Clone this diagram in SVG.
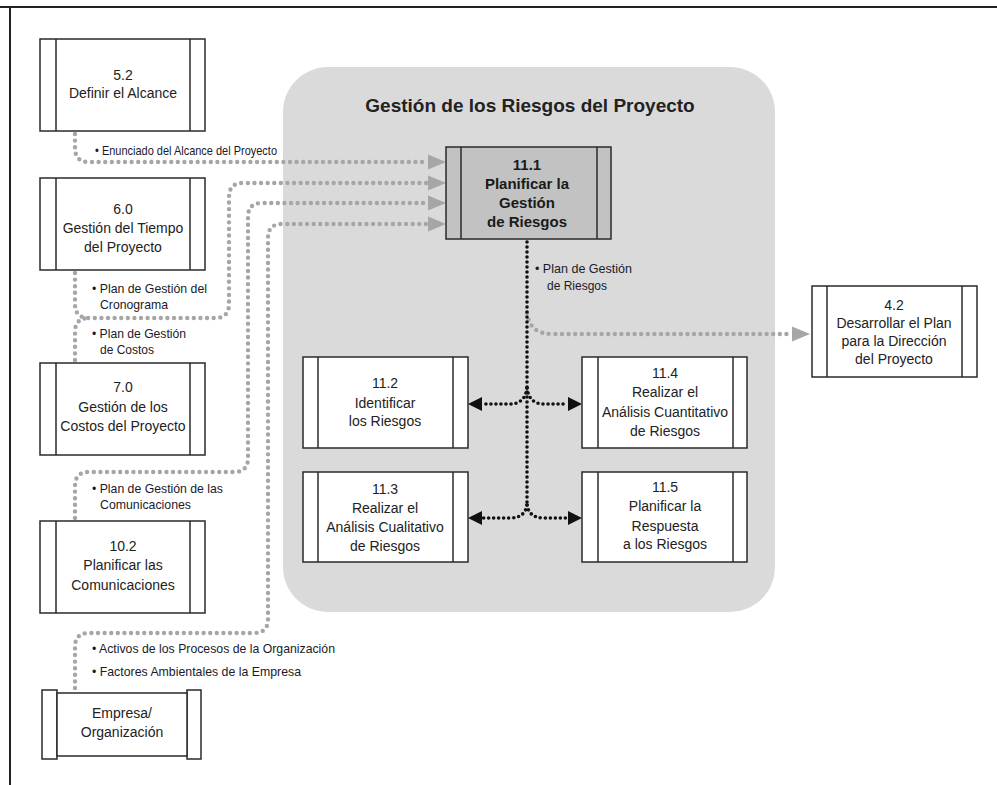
<svg xmlns="http://www.w3.org/2000/svg" width="997" height="785" viewBox="0 0 997 785">
<style>
.box{fill:#fff;stroke:#2a2a2a;stroke-width:1.5}
.bar{stroke:#2a2a2a;stroke-width:1.5}
.dk{fill:#c2c2c2}
.nt{font-family:"Liberation Sans",Arial,sans-serif;font-size:14px;fill:#222;text-anchor:middle}
.bt{font-family:"Liberation Sans",Arial,sans-serif;font-size:15px;font-weight:bold;fill:#1a1a1a;text-anchor:middle}
.lb{font-family:"Liberation Sans Narrow","Liberation Sans",Arial,sans-serif;font-size:13px;fill:#1a1a2a}
.gd{fill:none;stroke:#a6a6a6;stroke-width:4.4;stroke-linecap:round;stroke-dasharray:0 6.6}
.bd{fill:none;stroke:#111;stroke-width:3.6;stroke-linecap:round;stroke-dasharray:0 5}
</style>
<defs>
<marker id="ga" markerUnits="userSpaceOnUse" markerWidth="20" markerHeight="16" refX="0" refY="8" orient="auto"><path d="M0,0.5 L18,8 L0,15.5 z" fill="#a6a6a6"/></marker>
<marker id="ba" markerUnits="userSpaceOnUse" markerWidth="16" markerHeight="16" refX="0" refY="7.5" orient="auto"><path d="M0,0.5 L14,7.5 L0,14.5 z" fill="#111"/></marker>
</defs>
<rect width="997" height="785" fill="#fff"/>
<g id="frame">
<line x1="0" y1="7" x2="997" y2="7" stroke="#222" stroke-width="2"/>
<line x1="10" y1="7" x2="10" y2="785" stroke="#222" stroke-width="2"/>
</g>
<g id="container">
<rect x="283" y="67" width="492" height="545" rx="45" fill="#dadada"/>
<text x="530" y="112" font-family="'Liberation Sans',Arial,sans-serif" font-size="19" font-weight="bold" fill="#222" text-anchor="middle">Gestión de los Riesgos del Proyecto</text>
</g>
<g id="connectors">
<path class="gd" d="M75,134 L75,148 Q75,162 89,162 L428,162" marker-end="url(#ga)"/>
<path class="gd" d="M75,273 L75,304 Q75,318 89,318 L215,318 Q229,318 229,304 L229,197 Q229,183 243,183 L428,183" marker-end="url(#ga)"/>
<path class="gd" d="M75,360 L75,332 Q75,318 89,318"/>
<path class="gd" d="M75,518 L75,486 Q75,472 89,472 L234,472 Q248,472 248,458 L248,217 Q248,203 262,203 L428,203" marker-end="url(#ga)"/>
<path class="gd" d="M75,688 L75,647 Q75,633 89,633 L254,633 Q268,633 268,619 L268,238 Q268,224 282,224 L428,224" marker-end="url(#ga)"/>
<path class="gd" d="M527,313 Q530,334 552,334 L792,334" marker-end="url(#ga)"/>
<path class="bd" d="M527,242 L527,507"/>
<path class="bd" d="M527,388 Q525,404 510,404 L482,404" marker-end="url(#ba)"/>
<path class="bd" d="M527,388 Q529,404 544,404 L568,404" marker-end="url(#ba)"/>
<path class="bd" d="M527,505 Q525,518 510,518 L482,518" marker-end="url(#ba)"/>
<path class="bd" d="M527,505 Q529,518 544,518 L568,518" marker-end="url(#ba)"/>
</g>
<g id="labels">
<text class="lb" x="95" y="155" textLength="182" lengthAdjust="spacingAndGlyphs">• Enunciado del Alcance del Proyecto</text>
<text class="lb" x="92" y="293" textLength="115" lengthAdjust="spacingAndGlyphs">• Plan de Gestión del</text>
<text class="lb" x="100" y="309" textLength="68" lengthAdjust="spacingAndGlyphs">Cronograma</text>
<text class="lb" x="92" y="338" textLength="94" lengthAdjust="spacingAndGlyphs">• Plan de Gestión</text>
<text class="lb" x="100" y="354" textLength="54" lengthAdjust="spacingAndGlyphs">de Costos</text>
<text class="lb" x="92" y="493" textLength="131" lengthAdjust="spacingAndGlyphs">• Plan de Gestión de las</text>
<text class="lb" x="100" y="509" textLength="91" lengthAdjust="spacingAndGlyphs">Comunicaciones</text>
<text class="lb" x="92" y="653" textLength="243" lengthAdjust="spacingAndGlyphs">• Activos de los Procesos de la Organización</text>
<text class="lb" x="92" y="676" textLength="209" lengthAdjust="spacingAndGlyphs">• Factores Ambientales de la Empresa</text>
<text class="lb" x="535" y="273" textLength="97" lengthAdjust="spacingAndGlyphs">• Plan de Gestión</text>
<text class="lb" x="547" y="290" textLength="60" lengthAdjust="spacingAndGlyphs">de Riesgos</text>
</g>
<g id="n52">
<rect class="box" x="40" y="39" width="165" height="92"/>
<line class="bar" x1="56" y1="39" x2="56" y2="131"/><line class="bar" x1="190" y1="39" x2="190" y2="131"/>
<text class="nt" x="123" y="80">5.2</text>
<text class="nt" x="123" y="98">Definir el Alcance</text>
</g>
<g id="n60">
<rect class="box" x="40" y="178" width="165" height="92"/>
<line class="bar" x1="56" y1="178" x2="56" y2="270"/><line class="bar" x1="190" y1="178" x2="190" y2="270"/>
<text class="nt" x="123" y="214">6.0</text>
<text class="nt" x="123" y="233">Gestión del Tiempo</text>
<text class="nt" x="123" y="252">del Proyecto</text>
</g>
<g id="n70">
<rect class="box" x="40" y="363" width="165" height="92"/>
<line class="bar" x1="56" y1="363" x2="56" y2="455"/><line class="bar" x1="190" y1="363" x2="190" y2="455"/>
<text class="nt" x="123" y="392">7.0</text>
<text class="nt" x="123" y="412">Gestión de los</text>
<text class="nt" x="123" y="431">Costos del Proyecto</text>
</g>
<g id="n102">
<rect class="box" x="40" y="521" width="165" height="92"/>
<line class="bar" x1="56" y1="521" x2="56" y2="613"/><line class="bar" x1="190" y1="521" x2="190" y2="613"/>
<text class="nt" x="123" y="551">10.2</text>
<text class="nt" x="123" y="570">Planificar las</text>
<text class="nt" x="123" y="590">Comunicaciones</text>
</g>
<g id="nemp">
<rect class="box" x="42" y="690" width="15" height="69"/>
<rect class="box" x="187" y="690" width="14" height="69"/>
<rect class="box" x="57" y="693" width="130" height="63"/>
<text class="nt" x="122" y="718">Empresa/</text>
<text class="nt" x="122" y="737">Organización</text>
</g>
<g id="n111">
<rect class="box dk" x="446" y="147" width="165" height="92"/>
<line class="bar" x1="461" y1="147" x2="461" y2="239"/><line class="bar" x1="597" y1="147" x2="597" y2="239"/>
<text class="bt" x="527" y="170">11.1</text>
<text class="bt" x="527" y="189">Planificar la</text>
<text class="bt" x="527" y="208">Gestión</text>
<text class="bt" x="527" y="227">de Riesgos</text>
</g>
<g id="n42">
<rect class="box" x="812" y="286" width="165" height="91"/>
<line class="bar" x1="827" y1="286" x2="827" y2="377"/><line class="bar" x1="962" y1="286" x2="962" y2="377"/>
<text class="nt" x="894" y="310">4.2</text>
<text class="nt" x="894" y="328">Desarrollar el Plan</text>
<text class="nt" x="894" y="346">para la Dirección</text>
<text class="nt" x="894" y="364">del Proyecto</text>
</g>
<g id="n112">
<rect class="box" x="303" y="357" width="165" height="91"/>
<line class="bar" x1="318" y1="357" x2="318" y2="448"/><line class="bar" x1="453" y1="357" x2="453" y2="448"/>
<text class="nt" x="385" y="388">11.2</text>
<text class="nt" x="385" y="408">Identificar</text>
<text class="nt" x="385" y="426">los Riesgos</text>
</g>
<g id="n114">
<rect class="box" x="582" y="357" width="165" height="91"/>
<line class="bar" x1="598" y1="357" x2="598" y2="448"/><line class="bar" x1="733" y1="357" x2="733" y2="448"/>
<text class="nt" x="665" y="378">11.4</text>
<text class="nt" x="665" y="397">Realizar el</text>
<text class="nt" x="665" y="417">Análisis Cuantitativo</text>
<text class="nt" x="665" y="436">de Riesgos</text>
</g>
<g id="n113">
<rect class="box" x="303" y="472" width="165" height="90"/>
<line class="bar" x1="318" y1="472" x2="318" y2="562"/><line class="bar" x1="453" y1="472" x2="453" y2="562"/>
<text class="nt" x="385" y="494">11.3</text>
<text class="nt" x="385" y="513">Realizar el</text>
<text class="nt" x="385" y="532">Análisis Cualitativo</text>
<text class="nt" x="385" y="551">de Riesgos</text>
</g>
<g id="n115">
<rect class="box" x="582" y="472" width="165" height="90"/>
<line class="bar" x1="598" y1="472" x2="598" y2="562"/><line class="bar" x1="733" y1="472" x2="733" y2="562"/>
<text class="nt" x="665" y="492">11.5</text>
<text class="nt" x="665" y="511">Planificar la</text>
<text class="nt" x="665" y="531">Respuesta</text>
<text class="nt" x="665" y="549">a los Riesgos</text>
</g>
</svg>
